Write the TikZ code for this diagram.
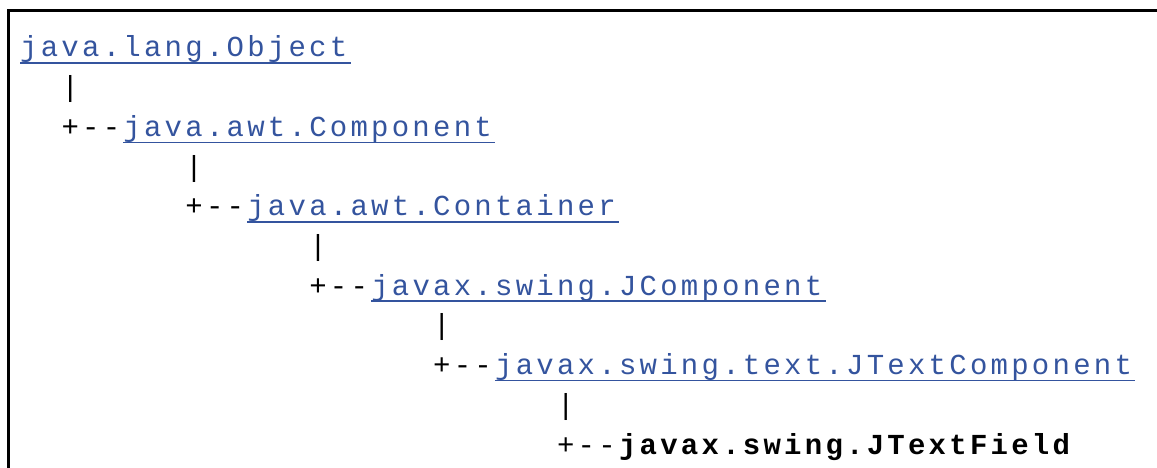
\documentclass[tikz,border=0pt]{standalone}
\usepackage{fontspec}
\setmonofont{Liberation Mono}[LetterSpace=11.2]
\definecolor{linkblue}{RGB}{52,84,158}

\tikzset{
  code/.style={inner sep=0pt, anchor=base west, font=\ttfamily\fontsize{29}{34}\selectfont},
  link/.style={code, text=linkblue},
  tree/.style={code, text=black},
  current/.style={code, text=black, font=\ttfamily\fontsize{29}{34}\selectfont\bfseries},
  underl/.style={draw=linkblue, line width=1.6pt},
  frame/.style={draw=black, line width=3pt},
}

\begin{document}
\begin{tikzpicture}[x=1pt, y=1pt]
    \useasboundingbox (0,0) rectangle (1157,-468);

    % frame (top and left edge only)
    \draw[frame] (8,-468) -- (8,-10.5) -- (1157,-10.5);

    % grid: 20.65 per column, 39.7 per line
    \def\cw{20.65}
    \def\lh{39.7}

    % root class
    \node[link] (object) at (20,-57) {java.lang.Object};
    \draw[underl] ([yshift=-6pt]object.base west) -- ([yshift=-6pt,xshift=3pt]object.base east);

    % inherited classes, one level deeper each time
    \foreach \lvl/\name/\cls in {1/component/java.awt.Component,
                                 2/container/java.awt.Container,
                                 3/jcomponent/javax.swing.JComponent,
                                 4/jtextcomp/javax.swing.text.JTextComponent}{
        \node[tree] (bar\lvl) at ({20+(6*\lvl-4)*\cw}, {-57-(2*\lvl-1)*\lh}) {|};
        \node[tree] (plus\lvl) at ({20+(6*\lvl-4)*\cw}, {-57-2*\lvl*\lh}) {+--};
        \node[link] (\name) at ({20+(6*\lvl-1)*\cw}, {-57-2*\lvl*\lh}) {\cls};
        \draw[underl] ([yshift=-6pt]\name.base west) -- ([yshift=-6pt,xshift=3pt]\name.base east);
    }

    % the class itself
    \node[tree] (bar5) at ({20+26*\cw}, {-57-9*\lh}) {|};
    \node[tree] (plus5) at ({20+26*\cw}, {-57-10*\lh}) {+--};
    \node[current] (jtextfield) at ({20+29*\cw}, {-57-10*\lh}) {javax.swing.JTextField};
\end{tikzpicture}
\end{document}
